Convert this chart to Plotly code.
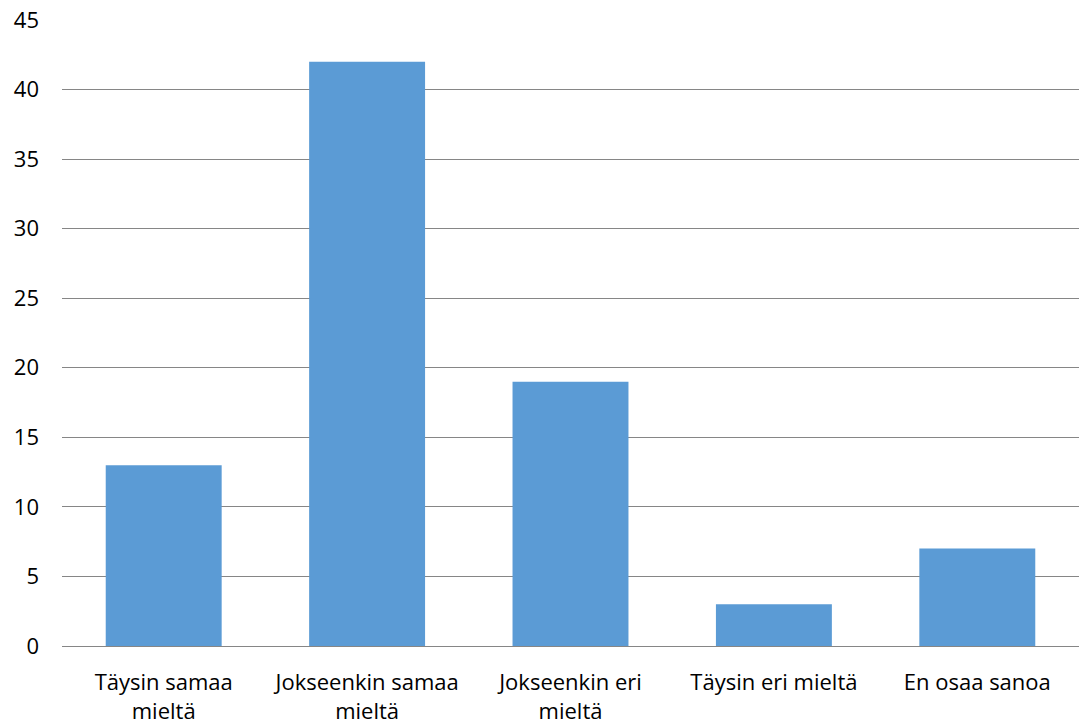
import plotly.graph_objects as go

categories = ["Täysin samaa<br>mieltä", "Jokseenkin samaa<br>mieltä", "Jokseenkin eri<br>mieltä",
              "Täysin eri mieltä", "En osaa sanoa"]
values = [13, 42, 19, 3, 7]
y_ticks = [0, 5, 10, 15, 20, 25, 30, 35, 40, 45]

fig = go.Figure(go.Bar(x=categories, y=values, marker=dict(color="#5B9BD5", line=dict(width=0))))

fig.update_layout(
    width=1079, height=727,
    margin=dict(l=62, r=0, t=20, b=81),
    plot_bgcolor="white", paper_bgcolor="white",
    bargap=0.43,
    showlegend=False,
    font=dict(family="Open Sans, Liberation Sans, sans-serif", size=22, color="#000000"),
)
fig.update_yaxes(range=[0, 45], tickvals=y_ticks, showgrid=True, gridcolor="#868686", gridwidth=1,
                 zeroline=False, showline=False, ticklabelstandoff=22)
fig.update_xaxes(showline=True, linecolor="#868686", linewidth=1, ticklabelstandoff=17,
                 tickangle=0)

fig.write_html("out.html")
